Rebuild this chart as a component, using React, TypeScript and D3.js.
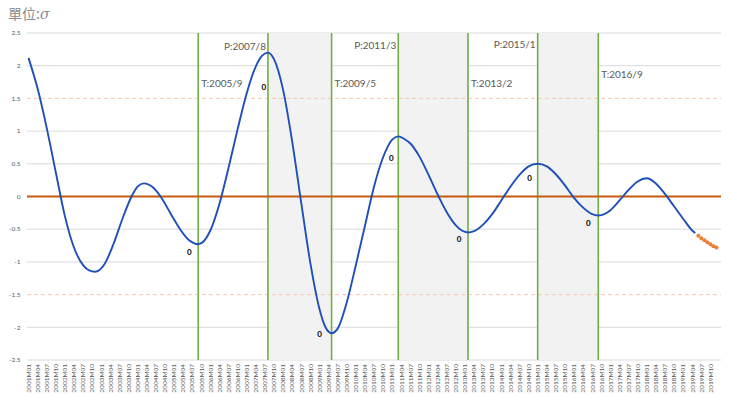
import React from 'react';
import * as d3 from 'd3';

// monthly categories 2001M01 .. 2019M12
const months: string[] = [];
for (let yr = 2001; yr <= 2019; yr++) {
  for (let m = 1; m <= 12; m++) months.push(`${yr}M${String(m).padStart(2, '0')}`);
}
// every third category gets a label
const tickLabels = months.filter((_, i) => i % 3 === 0 && i <= 225);

const yTicks = [2.5, 2, 1.5, 1, 0.5, 0, -0.5, -1, -1.5, -2, -2.5];

// blue series
const cycleDates = [
  '2001M01', '2001M04', '2001M07', '2001M10', '2002M01', '2002M04', '2002M07', '2002M09', '2002M11',
  '2003M02', '2003M05', '2003M08', '2003M11', '2004M01', '2004M03', '2004M06', '2004M09', '2004M12',
  '2005M03', '2005M06', '2005M09', '2006M01', '2006M04', '2006M07', '2006M10', '2007M01', '2007M04',
  '2007M06', '2007M08', '2007M10', '2008M01', '2008M04', '2008M07', '2008M10', '2009M01', '2009M03',
  '2009M05', '2009M07', '2009M10', '2010M01', '2010M04', '2010M07', '2010M10', '2011M01', '2011M03',
  '2011M05', '2011M07', '2011M10', '2012M01', '2012M04', '2012M07', '2012M10', '2012M12', '2013M02',
  '2013M04', '2013M07', '2013M10', '2014M01', '2014M04', '2014M07', '2014M10', '2015M01', '2015M04',
  '2015M07', '2015M10', '2016M01', '2016M04', '2016M07', '2016M09', '2016M11', '2017M01', '2017M04',
  '2017M07', '2017M10', '2018M01', '2018M04', '2018M07', '2018M10', '2019M01', '2019M04', '2019M05',
];
const cycleValues = [
  2.12, 1.65, 1.05, 0.37, -0.3, -0.78, -1.05, -1.13, -1.15,
  -1.04, -0.73, -0.34, 0.0, 0.15, 0.2, 0.14, -0.03, -0.27,
  -0.5, -0.67, -0.73, -0.52, -0.11, 0.44, 1.03, 1.58, 1.99,
  2.15, 2.2, 2.1, 1.63, 0.84, -0.1, -1.02, -1.72, -2.0,
  -2.09, -2.02, -1.62, -1.05, -0.45, 0.15, 0.6, 0.87, 0.92,
  0.88, 0.81, 0.61, 0.33, 0.03, -0.24, -0.44, -0.52, -0.55,
  -0.53, -0.43, -0.27, -0.06, 0.15, 0.33, 0.46, 0.5, 0.46,
  0.34, 0.17, -0.02, -0.17, -0.27, -0.29, -0.27, -0.21, -0.06,
  0.1, 0.23, 0.28, 0.2, 0.04, -0.15, -0.34, -0.52, -0.56,
];

// orange projection dots
const projDates = ['2019M06', '2019M07', '2019M08', '2019M09', '2019M10', '2019M11', '2019M12'];
const projValues = [-0.6, -0.64, -0.67, -0.7, -0.73, -0.76, -0.78];

// turning points
const peakDates = ['2007M08', '2011M03', '2015M01'];
const peakTexts = ['P:2007/8', 'P:2011/3', 'P:2015/1'];
const troughDates = ['2005M09', '2009M05', '2013M02', '2016M09'];
const troughTexts = ['T:2005/9', 'T:2009/5', 'T:2013/2', 'T:2016/9'];
const turnDates = ['2005M09', '2007M08', '2009M05', '2011M03', '2013M02', '2015M01', '2016M09'];
const turnLabels = ['0', '0', '0', '0', '0', '0', '0'];

// placement of the text boxes (layout only)
const peakTextY = [46.5, 45, 44];
const troughTextY = [83, 83, 83, 74];
const turnLabelDx = [-9, -4, -12, -7, -9, -8, -10];
const turnLabelDy = [8, 35, 1, 22, 7, 14, 8];

const W = 730;
const H = 397;
const left = 27;
const right = 718;
const gridRight = 721;
const top = 33;
const bottom = 360;

const font = 'Lato, "Open Sans", sans-serif';

export default function App() {
  const x = d3.scaleBand<string>().domain(months).range([left, right]);
  const xc = (d: string) => (x(d) as number) + x.bandwidth() / 2;
  const y = d3.scaleLinear().domain([-2.5, 2.5]).range([bottom, top]);

  const line = d3
    .line<number>()
    .x((_, i) => xc(cycleDates[i]))
    .y((v) => y(v))
    .curve(d3.curveMonotoneX);

  const valueAt = (d: string) => cycleValues[cycleDates.indexOf(d)];

  return (
    <svg
      width={W}
      height={H}
      style={{ position: 'absolute', left: 0, top: 0, background: '#fff' }}
      fontFamily={font}
    >
      <text x={8} y={19} fontSize={14} fill="#8c8c8c" fontFamily='"Noto Sans CJK TC", serif'>
        單位:<tspan fontStyle="italic" fontFamily='"DejaVu Serif", serif'>σ</tspan>
      </text>

      {/* gridlines */}
      {yTicks.filter((t) => t !== 0 && Math.abs(t) !== 1.5).map((t) => (
        <line key={t} x1={left} x2={gridRight} y1={y(t)} y2={y(t)} stroke="#d9d9d9" strokeWidth={1} />
      ))}

      {/* shaded contraction periods */}
      {peakDates.map((p, i) => (
        <rect
          key={p}
          x={xc(p)}
          y={top}
          width={xc(troughDates[i + 1]) - xc(p)}
          height={bottom - top}
          fill="#f2f2f2"
        />
      ))}

      {/* threshold lines */}
      {[1.5, -1.5].map((t) => (
        <line key={t} x1={left} x2={gridRight} y1={y(t)} y2={y(t)} stroke="#f8cbad" strokeWidth={1} strokeDasharray="4,3" />
      ))}

      {/* y tick labels */}
      {yTicks.map((t) => (
        <text key={t} x={20.5} y={y(t)} dy="0.35em" textAnchor="end" fontSize={6.5} fill="#595959">
          {t}
        </text>
      ))}

      {/* x tick labels */}
      {tickLabels.map((m) => (
        <text
          key={m}
          transform={`translate(${xc(m)},${bottom + 4}) rotate(-90)`}
          dy="0.35em"
          textAnchor="end"
          fontSize={6.5}
          fill="#595959"
        >
          {m}
        </text>
      ))}

      {/* turning point lines */}
      {[...troughDates, ...peakDates].map((d) => (
        <line key={d} x1={xc(d)} x2={xc(d)} y1={top} y2={bottom} stroke="#70ad47" strokeWidth={1.6} />
      ))}

      {/* zero line */}
      <line x1={left} x2={gridRight} y1={y(0)} y2={y(0)} stroke="#c55a11" strokeWidth={2} />

      {/* cycle */}
      <path d={line(cycleValues) || ''} fill="none" stroke="#1f4fb8" strokeWidth={1.9} />

      {projValues.map((v, i) => (
        <circle key={projDates[i]} cx={xc(projDates[i])} cy={y(v)} r={2} fill="#ed7d31" />
      ))}

      {/* P / T labels */}
      {peakDates.map((d, i) => (
        <text key={d} x={xc(d) - 2} y={peakTextY[i]} dy="0.35em" textAnchor="end" fontSize={10} fill="#595959">
          {peakTexts[i]}
        </text>
      ))}
      {troughDates.map((d, i) => (
        <text key={d} x={xc(d) + 3} y={troughTextY[i]} dy="0.35em" fontSize={10} fill="#595959">
          {troughTexts[i]}
        </text>
      ))}

      {/* data labels at turning points */}
      {turnDates.map((d, i) => (
        <text
          key={d}
          x={xc(d) + turnLabelDx[i]}
          y={y(valueAt(d)) + turnLabelDy[i]}
          dy="0.35em"
          textAnchor="middle"
          fontSize={8}
          fontWeight="bold"
          fill="#000"
        >
          {turnLabels[i]}
        </text>
      ))}
    </svg>
  );
}
